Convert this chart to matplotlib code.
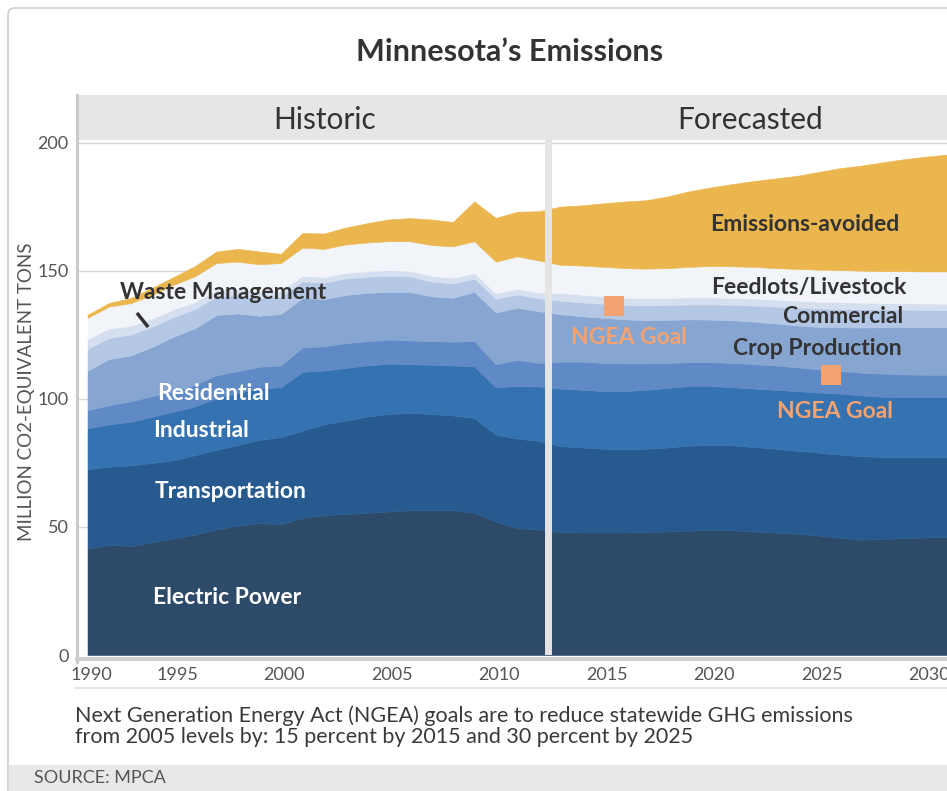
import matplotlib.pyplot as plt
import matplotlib.transforms as mtransforms
from matplotlib.patches import Rectangle, FancyBboxPatch
from matplotlib.lines import Line2D

plt.rcParams['font.family'] = ['Lato', 'DejaVu Sans']

# ---------------- data (million tons CO2-eq), 1990-2011 historic, 2012-2030 forecast
years = list(range(1990, 2031))

electric = [41.5, 43, 42.5, 44, 45.5, 47, 49, 50.5, 51.5, 51, 53.5, 54.5, 55, 55.5, 56, 56.5, 56.5, 56.5, 55.5, 52, 49.5, 49,
            48, 47.8, 47.8, 47.8, 48, 48.2, 48.5, 48.8, 48.6, 48.2, 47.8, 47.3, 46.6, 45.8, 45, 45.3, 45.6, 45.9, 46]
transport = [31, 30.5, 31.5, 31, 30.5, 31, 31, 31.5, 32.5, 34, 34, 35.5, 36.5, 37.5, 38, 38, 37.5, 37, 37, 34, 35, 34.5,
             33.5, 33.2, 32.7, 32.5, 32.5, 32.8, 33.2, 33.2, 33.2, 33, 32.7, 32.4, 32.4, 32.4, 32.6, 32, 31.6, 31.3, 31.2]
industrial = [16, 16.5, 17, 18, 19, 19, 20.2, 20.3, 20, 19.5, 23, 21, 20.5, 20, 19.7, 19, 19.3, 19.5, 20.1, 18.5, 20.5, 21.3,
              22.5, 22.5, 22.5, 22.7, 23, 23.2, 23.3, 23, 22.7, 22.8, 23, 23.3, 23.5, 23.8, 23.7, 23.5, 23.5, 23.5, 23.5]
residential = [7, 7.5, 8, 8, 8, 8.5, 9, 8.5, 8.5, 8.5, 9.5, 9.5, 9.7, 9.5, 9.3, 9.3, 9.2, 9.3, 9.9, 9, 10.2, 9.2,
               10.5, 11, 11, 10.8, 10.3, 9.8, 9.3, 9.3, 9.5, 9.5, 9.5, 9.3, 9, 8.8, 8.9, 9, 8.8, 8.7, 8.7]
crop = [15.5, 18, 17.9, 19.2, 21.2, 22, 23.5, 22.5, 19.9, 20.1, 19.3, 18.4, 18.8, 18.8, 18.7, 18.9, 17.5, 17.1, 19.2, 20.2, 20.3, 20.2,
        18.5, 17.7, 17.6, 17.2, 16.9, 16.8, 16.7, 16.6, 16.7, 16.6, 16.4, 16.3, 16.6, 17.1, 17.6, 18.1, 18.5, 18.6, 18.6]
commercial = [8.5, 8.3, 8.1, 7.9, 7.7, 7.5, 7.3, 7.1, 6.9, 6.7, 6.5, 6.4, 6.4, 6.3, 6.3, 6, 5.8, 5.6, 5.2, 5.3, 5.2, 5,
              5.3, 5.4, 5.5, 5.6, 5.7, 5.8, 5.8, 5.9, 6, 6.3, 6.6, 7, 7.2, 7.2, 7.1, 7, 6.8, 6.7, 6.6]
waste = [3.8, 3.6, 3.4, 3.2, 3, 2.8, 2.6, 2.5, 2.4, 2.3, 2.2, 2.2, 2.2, 2.2, 2.2, 2.2, 2.2, 2.2, 2.2, 2.2, 2.2, 2.2,
         3, 3, 2.9, 2.9, 2.9, 2.8, 2.8, 2.8, 2.7, 2.7, 2.7, 2.7, 2.6, 2.6, 2.6, 2.5, 2.5, 2.5, 2.5]
feedlots = [8.3, 8.6, 8.9, 9.2, 9.6, 10, 10.4, 10.6, 10.8, 10.9, 11, 11, 11.1, 11.2, 11.3, 11.6, 12, 12.3, 12.4, 12.3, 12.7, 12.6,
            11, 11.4, 11.5, 11.5, 11.5, 11.6, 11.9, 12.2, 12.3, 12.4, 12.3, 12.4, 12.5, 12.5, 12.5, 12.4, 12.5, 12.5, 12.6]
avoided = [1.2, 1.4, 2, 2.8, 3, 4, 4.5, 5, 5, 3.6, 5.7, 6, 6.6, 7.5, 8.5, 9, 10, 9.5, 15.5, 17.1, 17.4, 19.2,
           22.7, 23.5, 24.8, 26, 26.7, 28, 29.5, 30.7, 32.1, 33.5, 35, 36.3, 38.1, 39.8, 41, 42.5, 43.7, 44.8, 45.6]

# NGEA goal markers
goal_x = [2014.5, 2024.6]
goal_y = [136.2, 109.3]

xtick_years = list(range(1990, 2031, 5))
ytick_vals = [0, 50, 100, 150, 200]

layer_colors = ['#2e4a69', '#275b8f', '#3572b1', '#5f8ac5', '#87a5d1',
                '#b4c7e4', '#d5dff0', '#f1f4f9', '#eab64d']
dark = '#333333'
orange = '#f4a26f'

W, H = 947, 791
fig = plt.figure(figsize=(W / 100, H / 100), dpi=100)


def fx(px):
    return px / W


def fy(py):
    return 1 - py / H


# outer frame + source strip
fig.patches.append(FancyBboxPatch((fx(8), fy(800)), fx(960), fy(8) - fy(800),
                                  boxstyle='round,pad=0,rounding_size=0.008',
                                  transform=fig.transFigure, facecolor='none',
                                  edgecolor='#cfcfcf', lw=1.2, zorder=0))
fig.patches.append(Rectangle((fx(9), 0), 1, fy(765), transform=fig.transFigure,
                             facecolor='#e8e8e8', edgecolor='none', zorder=1))
fig.text(fx(34), fy(778), 'SOURCE: MPCA', fontsize=13, color='#555555', va='center')

# header band
fig.patches.append(Rectangle((fx(77), fy(140)), fx(870), fy(95) - fy(140),
                             transform=fig.transFigure, facecolor='#e6e6e6',
                             edgecolor='none', zorder=1))
fig.text(fx(325), fy(120), 'Historic', fontsize=21.5, color=dark,
         ha='center', va='center')
fig.text(fx(750), fy(120), 'Forecasted', fontsize=21.5, color=dark,
         ha='center', va='center')

fig.text(fx(510), fy(52), 'Minnesota\u2019s Emissions', fontsize=22, fontweight='bold',
         color=dark, ha='center', va='center')
fig.text(fx(27), fy(392), 'MILLION CO2-EQUIVALENT TONS', fontsize=13.5,
         color='#555555', rotation=90, ha='center', va='center')

# main axes
ax = fig.add_axes([fx(77), fy(655), fx(870), fy(140) - fy(655)])
ax.set_zorder(2)
ax.patch.set_alpha(0)
polys = ax.stackplot(years, electric, transport, industrial, residential, crop,
                     commercial, waste, feedlots, avoided, colors=layer_colors, lw=0.4)
for p, c in zip(polys, layer_colors):
    p.set_edgecolor(c)
ax.set_xlim(1989.51, 2030)
ax.set_ylim(0, 201)
for s in ax.spines.values():
    s.set_visible(False)
ax.set_yticks(ytick_vals)
ax.set_xticks(xtick_years)
ax.yaxis.grid(True, color='#d9d9d9', lw=1)
ax.set_axisbelow(True)
ax.tick_params(length=0, labelsize=13, labelcolor='#555555')
ax.tick_params(axis='y', pad=6)
ax.tick_params(axis='x', pad=9)
for i, lab in enumerate(ax.get_xticklabels()):
    dx = 4 if i == 0 else -18
    lab.set_transform(lab.get_transform() +
                      mtransforms.ScaledTranslation(dx / 100, 0, fig.dpi_scale_trans))

# divider between historic and forecast
ax.axvline(2011.43, color='#e4e4e4', lw=5, zorder=4)

# goal markers
ax.scatter(goal_x, goal_y, marker='s', s=200, color=orange, zorder=5, linewidths=0)

bold = dict(fontsize=16.5, fontweight='bold', va='center', zorder=6)
ax.text(1991.51, 141.3, 'Waste Management', color=dark, ha='left', **bold)
ax.plot([1992.30, 1992.82], [133.5, 128.0], color=dark, lw=2.5, solid_capstyle='butt', zorder=6)
ax.text(2027.8, 168.2, 'Emissions-avoided', color=dark, ha='right', **bold)
ax.text(2028.13, 143.6, 'Feedlots/Livestock', color=dark, ha='right', **bold)
ax.text(2027.95, 132.3, 'Commercial', color=dark, ha='right', **bold)
ax.text(2027.9, 119.8, 'Crop Production', color=dark, ha='right', **bold)
ax.text(2015.2, 124.1, 'NGEA Goal', color=orange, ha='center', **bold)
ax.text(2024.8, 95.2, 'NGEA Goal', color=orange, ha='center', **bold)
ax.text(1993.23, 101.9, 'Residential', color='white', ha='left', **bold)
ax.text(1993.05, 87.8, 'Industrial', color='white', ha='left', **bold)
ax.text(1993.14, 64.0, 'Transportation', color='white', ha='left', **bold)
ax.text(1993.05, 22.6, 'Electric Power', color='white', ha='left', **bold)

# axis lines drawn in figure pixels
fig.lines.append(Line2D([fx(77), fx(77)], [fy(95), fy(662)], transform=fig.transFigure,
                        color='#cacaca', lw=2.2, zorder=3))
fig.lines.append(Line2D([fx(77), fx(947)], [fy(658.5), fy(658.5)], transform=fig.transFigure,
                        color='#d0d0d0', lw=3, zorder=3))
fig.lines.append(Line2D([fx(75), fx(947)], [fy(688), fy(688)], transform=fig.transFigure,
                        color='#e6e6e6', lw=1.5, zorder=3))

fig.text(fx(75), fy(716), 'Next Generation Energy Act (NGEA) goals are to reduce statewide GHG emissions',
         fontsize=15.5, color='#3a3a3a', va='center')
fig.text(fx(75), fy(737), 'from 2005 levels by: 15 percent by 2015 and 30 percent by 2025',
         fontsize=15.5, color='#3a3a3a', va='center')

fig.savefig('out.png', dpi=100)
